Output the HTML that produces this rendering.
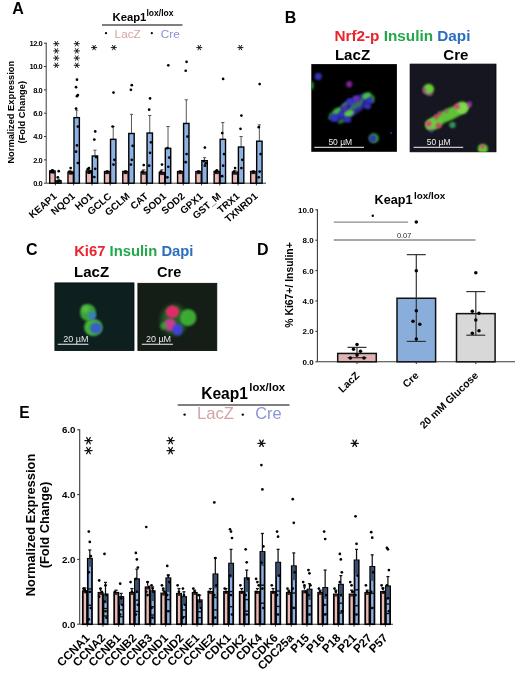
<!DOCTYPE html>
<html><head><meta charset="utf-8"><style>
html,body{margin:0;padding:0;background:#fff;}
svg{display:block;font-family:"Liberation Sans", sans-serif;will-change:transform;}
</style></head><body>
<svg width="520" height="681" viewBox="0 0 520 681">
<defs><filter id="b5" x="-50%" y="-50%" width="200%" height="200%"><feGaussianBlur stdDeviation="0.5"/></filter><filter id="b6" x="-50%" y="-50%" width="200%" height="200%"><feGaussianBlur stdDeviation="0.6"/></filter><filter id="b8" x="-50%" y="-50%" width="200%" height="200%"><feGaussianBlur stdDeviation="0.8"/></filter><filter id="b9" x="-50%" y="-50%" width="200%" height="200%"><feGaussianBlur stdDeviation="0.9"/></filter><filter id="b10" x="-50%" y="-50%" width="200%" height="200%"><feGaussianBlur stdDeviation="1.0"/></filter><filter id="b11" x="-50%" y="-50%" width="200%" height="200%"><feGaussianBlur stdDeviation="1.1"/></filter><filter id="b12" x="-50%" y="-50%" width="200%" height="200%"><feGaussianBlur stdDeviation="1.2"/></filter><filter id="b13" x="-50%" y="-50%" width="200%" height="200%"><feGaussianBlur stdDeviation="1.3"/></filter><filter id="b15" x="-50%" y="-50%" width="200%" height="200%"><feGaussianBlur stdDeviation="1.5"/></filter><filter id="b25" x="-50%" y="-50%" width="200%" height="200%"><feGaussianBlur stdDeviation="2.5"/></filter></defs>
<rect width="520" height="681" fill="#fff"/>
<line x1="46.2" y1="42.696" x2="46.2" y2="183.2" stroke="#3a3a3a" stroke-width="1"/>
<line x1="46.2" y1="183.2" x2="266" y2="183.2" stroke="#3a3a3a" stroke-width="1"/>
<line x1="44.0" y1="183.20" x2="46.2" y2="183.20" stroke="#3a3a3a" stroke-width="1"/>
<text x="42.3" y="186.0" font-size="7.5" font-weight="bold" fill="#000" text-anchor="end" letter-spacing="-0.45">0.0</text>
<line x1="44.0" y1="159.87" x2="46.2" y2="159.87" stroke="#3a3a3a" stroke-width="1"/>
<text x="42.3" y="162.666" font-size="7.5" font-weight="bold" fill="#000" text-anchor="end" letter-spacing="-0.45">2.0</text>
<line x1="44.0" y1="136.53" x2="46.2" y2="136.53" stroke="#3a3a3a" stroke-width="1"/>
<text x="42.3" y="139.332" font-size="7.5" font-weight="bold" fill="#000" text-anchor="end" letter-spacing="-0.45">4.0</text>
<line x1="44.0" y1="113.20" x2="46.2" y2="113.20" stroke="#3a3a3a" stroke-width="1"/>
<text x="42.3" y="115.99799999999999" font-size="7.5" font-weight="bold" fill="#000" text-anchor="end" letter-spacing="-0.45">6.0</text>
<line x1="44.0" y1="89.86" x2="46.2" y2="89.86" stroke="#3a3a3a" stroke-width="1"/>
<text x="42.3" y="92.66399999999999" font-size="7.5" font-weight="bold" fill="#000" text-anchor="end" letter-spacing="-0.45">8.0</text>
<line x1="44.0" y1="66.53" x2="46.2" y2="66.53" stroke="#3a3a3a" stroke-width="1"/>
<text x="42.3" y="69.32999999999998" font-size="7.5" font-weight="bold" fill="#000" text-anchor="end" letter-spacing="-0.45">10.0</text>
<line x1="44.0" y1="43.20" x2="46.2" y2="43.20" stroke="#3a3a3a" stroke-width="1"/>
<text x="42.3" y="45.995999999999995" font-size="7.5" font-weight="bold" fill="#000" text-anchor="end" letter-spacing="-0.45">12.0</text>
<line x1="55.40" y1="183.2" x2="55.40" y2="185.39999999999998" stroke="#3a3a3a" stroke-width="1"/>
<line x1="52.40" y1="170.95" x2="52.40" y2="170.13" stroke="#444" stroke-width="0.9"/>
<line x1="50.80" y1="170.13" x2="54.00" y2="170.13" stroke="#444" stroke-width="0.9"/>
<line x1="58.40" y1="180.87" x2="58.40" y2="179.12" stroke="#444" stroke-width="0.9"/>
<line x1="56.80" y1="179.12" x2="60.00" y2="179.12" stroke="#444" stroke-width="0.9"/>
<rect x="49.70" y="170.95" width="5.4" height="12.25" fill="#e9b9b7" stroke="#000" stroke-width="1.4"/>
<rect x="55.70" y="180.87" width="5.4" height="2.33" fill="#8db2e3" stroke="#000" stroke-width="1.4"/>
<rect x="50.30" y="170.95" width="4.20" height="2.6" fill="#2a1a1a"/>
<circle cx="52.40" cy="170.37" r="1.35" fill="#000"/>
<circle cx="51.20" cy="171.53" r="1.35" fill="#000"/>
<circle cx="53.60" cy="172.12" r="1.35" fill="#000"/>
<circle cx="52.40" cy="170.95" r="1.35" fill="#000"/>
<circle cx="58.70" cy="171.18" r="1.35" fill="#000"/>
<circle cx="57.80" cy="177.37" r="1.35" fill="#000"/>
<circle cx="59.60" cy="180.87" r="1.35" fill="#000"/>
<circle cx="58.70" cy="181.45" r="1.35" fill="#000"/>
<circle cx="57.80" cy="182.03" r="1.35" fill="#000"/>
<text transform="translate(57.40,197.2) rotate(-41)" font-size="9.9" font-weight="bold" text-anchor="end">KEAP1</text>
<line x1="73.67" y1="183.2" x2="73.67" y2="185.39999999999998" stroke="#3a3a3a" stroke-width="1"/>
<line x1="70.67" y1="172.12" x2="70.67" y2="170.95" stroke="#444" stroke-width="0.9"/>
<line x1="69.07" y1="170.95" x2="72.27" y2="170.95" stroke="#444" stroke-width="0.9"/>
<line x1="76.67" y1="117.63" x2="76.67" y2="110.16" stroke="#444" stroke-width="0.9"/>
<line x1="75.07" y1="110.16" x2="78.27" y2="110.16" stroke="#444" stroke-width="0.9"/>
<rect x="67.97" y="172.12" width="5.4" height="11.08" fill="#e9b9b7" stroke="#000" stroke-width="1.4"/>
<rect x="73.97" y="117.63" width="5.4" height="65.57" fill="#8db2e3" stroke="#000" stroke-width="1.4"/>
<rect x="68.57" y="172.12" width="4.20" height="2.6" fill="#2a1a1a"/>
<circle cx="70.67" cy="168.03" r="1.35" fill="#000"/>
<circle cx="69.47" cy="171.53" r="1.35" fill="#000"/>
<circle cx="71.87" cy="172.70" r="1.35" fill="#000"/>
<circle cx="76.97" cy="79.71" r="1.35" fill="#000"/>
<circle cx="76.07" cy="87.18" r="1.35" fill="#000"/>
<circle cx="77.87" cy="95.00" r="1.35" fill="#000"/>
<circle cx="76.97" cy="96.16" r="1.35" fill="#000"/>
<circle cx="76.07" cy="108.53" r="1.35" fill="#000"/>
<circle cx="77.87" cy="126.62" r="1.35" fill="#000"/>
<circle cx="76.97" cy="145.40" r="1.35" fill="#000"/>
<circle cx="76.07" cy="151.70" r="1.35" fill="#000"/>
<circle cx="77.87" cy="163.02" r="1.35" fill="#000"/>
<text transform="translate(75.67,197.2) rotate(-41)" font-size="9.9" font-weight="bold" text-anchor="end">NQO1</text>
<line x1="91.94" y1="183.2" x2="91.94" y2="185.39999999999998" stroke="#3a3a3a" stroke-width="1"/>
<line x1="88.94" y1="170.95" x2="88.94" y2="169.20" stroke="#444" stroke-width="0.9"/>
<line x1="87.34" y1="169.20" x2="90.54" y2="169.20" stroke="#444" stroke-width="0.9"/>
<line x1="94.94" y1="156.02" x2="94.94" y2="150.18" stroke="#444" stroke-width="0.9"/>
<line x1="93.34" y1="150.18" x2="96.54" y2="150.18" stroke="#444" stroke-width="0.9"/>
<rect x="86.24" y="170.95" width="5.4" height="12.25" fill="#e9b9b7" stroke="#000" stroke-width="1.4"/>
<rect x="92.24" y="156.02" width="5.4" height="27.18" fill="#8db2e3" stroke="#000" stroke-width="1.4"/>
<rect x="86.84" y="170.95" width="4.20" height="2.6" fill="#2a1a1a"/>
<circle cx="88.94" cy="168.03" r="1.35" fill="#000"/>
<circle cx="87.74" cy="169.20" r="1.35" fill="#000"/>
<circle cx="90.14" cy="171.53" r="1.35" fill="#000"/>
<circle cx="88.94" cy="172.70" r="1.35" fill="#000"/>
<circle cx="95.24" cy="131.40" r="1.35" fill="#000"/>
<circle cx="94.34" cy="139.57" r="1.35" fill="#000"/>
<circle cx="96.14" cy="157.07" r="1.35" fill="#000"/>
<circle cx="95.24" cy="168.85" r="1.35" fill="#000"/>
<circle cx="94.34" cy="177.02" r="1.35" fill="#000"/>
<text transform="translate(93.94,197.2) rotate(-41)" font-size="9.9" font-weight="bold" text-anchor="end">HO1</text>
<line x1="110.21" y1="183.2" x2="110.21" y2="185.39999999999998" stroke="#3a3a3a" stroke-width="1"/>
<line x1="107.21" y1="171.53" x2="107.21" y2="170.95" stroke="#444" stroke-width="0.9"/>
<line x1="105.61" y1="170.95" x2="108.81" y2="170.95" stroke="#444" stroke-width="0.9"/>
<line x1="113.21" y1="139.33" x2="113.21" y2="126.50" stroke="#444" stroke-width="0.9"/>
<line x1="111.61" y1="126.50" x2="114.81" y2="126.50" stroke="#444" stroke-width="0.9"/>
<rect x="104.51" y="171.53" width="5.4" height="11.67" fill="#e9b9b7" stroke="#000" stroke-width="1.4"/>
<rect x="110.51" y="139.33" width="5.4" height="43.87" fill="#8db2e3" stroke="#000" stroke-width="1.4"/>
<rect x="105.11" y="171.53" width="4.20" height="2.6" fill="#2a1a1a"/>
<circle cx="107.21" cy="171.53" r="1.35" fill="#000"/>
<circle cx="113.51" cy="92.55" r="1.35" fill="#000"/>
<circle cx="112.61" cy="126.50" r="1.35" fill="#000"/>
<circle cx="114.41" cy="159.87" r="1.35" fill="#000"/>
<circle cx="113.51" cy="164.53" r="1.35" fill="#000"/>
<text transform="translate(112.21,197.2) rotate(-41)" font-size="9.9" font-weight="bold" text-anchor="end">GCLC</text>
<line x1="128.48" y1="183.2" x2="128.48" y2="185.39999999999998" stroke="#3a3a3a" stroke-width="1"/>
<line x1="125.48" y1="171.53" x2="125.48" y2="170.95" stroke="#444" stroke-width="0.9"/>
<line x1="123.88" y1="170.95" x2="127.08" y2="170.95" stroke="#444" stroke-width="0.9"/>
<line x1="131.48" y1="133.50" x2="131.48" y2="114.36" stroke="#444" stroke-width="0.9"/>
<line x1="129.88" y1="114.36" x2="133.08" y2="114.36" stroke="#444" stroke-width="0.9"/>
<rect x="122.78" y="171.53" width="5.4" height="11.67" fill="#e9b9b7" stroke="#000" stroke-width="1.4"/>
<rect x="128.78" y="133.50" width="5.4" height="49.70" fill="#8db2e3" stroke="#000" stroke-width="1.4"/>
<rect x="123.38" y="171.53" width="4.20" height="2.6" fill="#2a1a1a"/>
<circle cx="125.48" cy="171.53" r="1.35" fill="#000"/>
<circle cx="131.78" cy="85.20" r="1.35" fill="#000"/>
<circle cx="130.88" cy="89.86" r="1.35" fill="#000"/>
<circle cx="132.68" cy="145.87" r="1.35" fill="#000"/>
<circle cx="131.78" cy="159.87" r="1.35" fill="#000"/>
<circle cx="130.88" cy="164.53" r="1.35" fill="#000"/>
<text transform="translate(130.48,197.2) rotate(-41)" font-size="9.9" font-weight="bold" text-anchor="end">GCLM</text>
<line x1="146.75" y1="183.2" x2="146.75" y2="185.39999999999998" stroke="#3a3a3a" stroke-width="1"/>
<line x1="143.75" y1="172.12" x2="143.75" y2="169.78" stroke="#444" stroke-width="0.9"/>
<line x1="142.15" y1="169.78" x2="145.35" y2="169.78" stroke="#444" stroke-width="0.9"/>
<line x1="149.75" y1="133.03" x2="149.75" y2="115.53" stroke="#444" stroke-width="0.9"/>
<line x1="148.15" y1="115.53" x2="151.35" y2="115.53" stroke="#444" stroke-width="0.9"/>
<rect x="141.05" y="172.12" width="5.4" height="11.08" fill="#e9b9b7" stroke="#000" stroke-width="1.4"/>
<rect x="147.05" y="133.03" width="5.4" height="50.17" fill="#8db2e3" stroke="#000" stroke-width="1.4"/>
<rect x="141.65" y="172.12" width="4.20" height="2.6" fill="#2a1a1a"/>
<circle cx="143.75" cy="165.12" r="1.35" fill="#000"/>
<circle cx="142.55" cy="171.53" r="1.35" fill="#000"/>
<circle cx="150.05" cy="98.38" r="1.35" fill="#000"/>
<circle cx="149.15" cy="109.70" r="1.35" fill="#000"/>
<circle cx="150.95" cy="142.37" r="1.35" fill="#000"/>
<circle cx="150.05" cy="152.87" r="1.35" fill="#000"/>
<circle cx="149.15" cy="165.70" r="1.35" fill="#000"/>
<text transform="translate(148.75,197.2) rotate(-41)" font-size="9.9" font-weight="bold" text-anchor="end">CAT</text>
<line x1="165.02" y1="183.2" x2="165.02" y2="185.39999999999998" stroke="#3a3a3a" stroke-width="1"/>
<line x1="162.02" y1="172.47" x2="162.02" y2="169.78" stroke="#444" stroke-width="0.9"/>
<line x1="160.42" y1="169.78" x2="163.62" y2="169.78" stroke="#444" stroke-width="0.9"/>
<line x1="168.02" y1="148.32" x2="168.02" y2="126.50" stroke="#444" stroke-width="0.9"/>
<line x1="166.42" y1="126.50" x2="169.62" y2="126.50" stroke="#444" stroke-width="0.9"/>
<rect x="159.32" y="172.47" width="5.4" height="10.73" fill="#e9b9b7" stroke="#000" stroke-width="1.4"/>
<rect x="165.32" y="148.32" width="5.4" height="34.88" fill="#8db2e3" stroke="#000" stroke-width="1.4"/>
<rect x="159.92" y="172.47" width="4.20" height="2.6" fill="#2a1a1a"/>
<circle cx="162.02" cy="164.53" r="1.35" fill="#000"/>
<circle cx="160.82" cy="171.53" r="1.35" fill="#000"/>
<circle cx="168.32" cy="65.36" r="1.35" fill="#000"/>
<circle cx="167.42" cy="148.20" r="1.35" fill="#000"/>
<circle cx="169.22" cy="157.53" r="1.35" fill="#000"/>
<circle cx="168.32" cy="166.87" r="1.35" fill="#000"/>
<circle cx="167.42" cy="177.37" r="1.35" fill="#000"/>
<text transform="translate(167.02,197.2) rotate(-41)" font-size="9.9" font-weight="bold" text-anchor="end">SOD1</text>
<line x1="183.29" y1="183.2" x2="183.29" y2="185.39999999999998" stroke="#3a3a3a" stroke-width="1"/>
<line x1="180.29" y1="171.53" x2="180.29" y2="170.95" stroke="#444" stroke-width="0.9"/>
<line x1="178.69" y1="170.95" x2="181.89" y2="170.95" stroke="#444" stroke-width="0.9"/>
<line x1="186.29" y1="123.46" x2="186.29" y2="99.78" stroke="#444" stroke-width="0.9"/>
<line x1="184.69" y1="99.78" x2="187.89" y2="99.78" stroke="#444" stroke-width="0.9"/>
<rect x="177.59" y="171.53" width="5.4" height="11.67" fill="#e9b9b7" stroke="#000" stroke-width="1.4"/>
<rect x="183.59" y="123.46" width="5.4" height="59.74" fill="#8db2e3" stroke="#000" stroke-width="1.4"/>
<rect x="178.19" y="171.53" width="4.20" height="2.6" fill="#2a1a1a"/>
<circle cx="180.29" cy="171.53" r="1.35" fill="#000"/>
<circle cx="186.59" cy="61.86" r="1.35" fill="#000"/>
<circle cx="185.69" cy="70.73" r="1.35" fill="#000"/>
<circle cx="187.49" cy="136.53" r="1.35" fill="#000"/>
<circle cx="186.59" cy="154.03" r="1.35" fill="#000"/>
<circle cx="185.69" cy="162.20" r="1.35" fill="#000"/>
<text transform="translate(185.29,197.2) rotate(-41)" font-size="9.9" font-weight="bold" text-anchor="end">SOD2</text>
<line x1="201.56" y1="183.2" x2="201.56" y2="185.39999999999998" stroke="#3a3a3a" stroke-width="1"/>
<line x1="198.56" y1="171.53" x2="198.56" y2="170.95" stroke="#444" stroke-width="0.9"/>
<line x1="196.96" y1="170.95" x2="200.16" y2="170.95" stroke="#444" stroke-width="0.9"/>
<line x1="204.56" y1="160.68" x2="204.56" y2="157.65" stroke="#444" stroke-width="0.9"/>
<line x1="202.96" y1="157.65" x2="206.16" y2="157.65" stroke="#444" stroke-width="0.9"/>
<rect x="195.86" y="171.53" width="5.4" height="11.67" fill="#e9b9b7" stroke="#000" stroke-width="1.4"/>
<rect x="201.86" y="160.68" width="5.4" height="22.52" fill="#8db2e3" stroke="#000" stroke-width="1.4"/>
<rect x="196.46" y="171.53" width="4.20" height="2.6" fill="#2a1a1a"/>
<circle cx="198.56" cy="171.53" r="1.35" fill="#000"/>
<circle cx="204.86" cy="147.62" r="1.35" fill="#000"/>
<circle cx="203.96" cy="161.03" r="1.35" fill="#000"/>
<circle cx="205.76" cy="163.37" r="1.35" fill="#000"/>
<circle cx="204.86" cy="165.70" r="1.35" fill="#000"/>
<text transform="translate(203.56,197.2) rotate(-41)" font-size="9.9" font-weight="bold" text-anchor="end">GPX1</text>
<line x1="219.83" y1="183.2" x2="219.83" y2="185.39999999999998" stroke="#3a3a3a" stroke-width="1"/>
<line x1="216.83" y1="171.53" x2="216.83" y2="170.37" stroke="#444" stroke-width="0.9"/>
<line x1="215.23" y1="170.37" x2="218.43" y2="170.37" stroke="#444" stroke-width="0.9"/>
<line x1="222.83" y1="139.33" x2="222.83" y2="122.53" stroke="#444" stroke-width="0.9"/>
<line x1="221.23" y1="122.53" x2="224.43" y2="122.53" stroke="#444" stroke-width="0.9"/>
<rect x="214.13" y="171.53" width="5.4" height="11.67" fill="#e9b9b7" stroke="#000" stroke-width="1.4"/>
<rect x="220.13" y="139.33" width="5.4" height="43.87" fill="#8db2e3" stroke="#000" stroke-width="1.4"/>
<rect x="214.73" y="171.53" width="4.20" height="2.6" fill="#2a1a1a"/>
<circle cx="216.83" cy="170.37" r="1.35" fill="#000"/>
<circle cx="215.63" cy="171.53" r="1.35" fill="#000"/>
<circle cx="223.13" cy="78.90" r="1.35" fill="#000"/>
<circle cx="222.23" cy="133.03" r="1.35" fill="#000"/>
<circle cx="224.03" cy="154.03" r="1.35" fill="#000"/>
<circle cx="223.13" cy="165.70" r="1.35" fill="#000"/>
<circle cx="222.23" cy="176.20" r="1.35" fill="#000"/>
<text transform="translate(221.83,197.2) rotate(-41)" font-size="9.9" font-weight="bold" text-anchor="end">GST_M</text>
<line x1="238.10" y1="183.2" x2="238.10" y2="185.39999999999998" stroke="#3a3a3a" stroke-width="1"/>
<line x1="235.10" y1="172.12" x2="235.10" y2="170.37" stroke="#444" stroke-width="0.9"/>
<line x1="233.50" y1="170.37" x2="236.70" y2="170.37" stroke="#444" stroke-width="0.9"/>
<line x1="241.10" y1="147.03" x2="241.10" y2="136.53" stroke="#444" stroke-width="0.9"/>
<line x1="239.50" y1="136.53" x2="242.70" y2="136.53" stroke="#444" stroke-width="0.9"/>
<rect x="232.40" y="172.12" width="5.4" height="11.08" fill="#e9b9b7" stroke="#000" stroke-width="1.4"/>
<rect x="238.40" y="147.03" width="5.4" height="36.17" fill="#8db2e3" stroke="#000" stroke-width="1.4"/>
<rect x="233.00" y="172.12" width="4.20" height="2.6" fill="#2a1a1a"/>
<circle cx="235.10" cy="168.03" r="1.35" fill="#000"/>
<circle cx="233.90" cy="171.53" r="1.35" fill="#000"/>
<circle cx="241.40" cy="115.53" r="1.35" fill="#000"/>
<circle cx="240.50" cy="128.83" r="1.35" fill="#000"/>
<circle cx="242.30" cy="159.87" r="1.35" fill="#000"/>
<circle cx="241.40" cy="168.03" r="1.35" fill="#000"/>
<text transform="translate(240.10,197.2) rotate(-41)" font-size="9.9" font-weight="bold" text-anchor="end">TRX1</text>
<line x1="256.37" y1="183.2" x2="256.37" y2="185.39999999999998" stroke="#3a3a3a" stroke-width="1"/>
<line x1="253.37" y1="171.53" x2="253.37" y2="170.95" stroke="#444" stroke-width="0.9"/>
<line x1="251.77" y1="170.95" x2="254.97" y2="170.95" stroke="#444" stroke-width="0.9"/>
<line x1="259.37" y1="141.20" x2="259.37" y2="124.86" stroke="#444" stroke-width="0.9"/>
<line x1="257.77" y1="124.86" x2="260.97" y2="124.86" stroke="#444" stroke-width="0.9"/>
<rect x="250.67" y="171.53" width="5.4" height="11.67" fill="#e9b9b7" stroke="#000" stroke-width="1.4"/>
<rect x="256.67" y="141.20" width="5.4" height="42.00" fill="#8db2e3" stroke="#000" stroke-width="1.4"/>
<rect x="251.27" y="171.53" width="4.20" height="2.6" fill="#2a1a1a"/>
<circle cx="253.37" cy="171.53" r="1.35" fill="#000"/>
<circle cx="259.67" cy="84.03" r="1.35" fill="#000"/>
<circle cx="258.77" cy="127.20" r="1.35" fill="#000"/>
<circle cx="260.57" cy="154.03" r="1.35" fill="#000"/>
<circle cx="259.67" cy="171.53" r="1.35" fill="#000"/>
<circle cx="258.77" cy="177.37" r="1.35" fill="#000"/>
<text transform="translate(258.37,197.2) rotate(-41)" font-size="9.9" font-weight="bold" text-anchor="end">TXNRD1</text>
<path d="M53.70,43.70L58.90,43.70M55.00,41.45L57.60,45.95M57.60,41.45L55.00,45.95" stroke="#111" stroke-width="0.95" stroke-linecap="round" fill="none"/>
<path d="M53.70,50.90L58.90,50.90M55.00,48.65L57.60,53.15M57.60,48.65L55.00,53.15" stroke="#111" stroke-width="0.95" stroke-linecap="round" fill="none"/>
<path d="M53.70,58.10L58.90,58.10M55.00,55.85L57.60,60.35M57.60,55.85L55.00,60.35" stroke="#111" stroke-width="0.95" stroke-linecap="round" fill="none"/>
<path d="M53.70,65.30L58.90,65.30M55.00,63.05L57.60,67.55M57.60,63.05L55.00,67.55" stroke="#111" stroke-width="0.95" stroke-linecap="round" fill="none"/>
<path d="M74.20,43.70L79.40,43.70M75.50,41.45L78.10,45.95M78.10,41.45L75.50,45.95" stroke="#111" stroke-width="0.95" stroke-linecap="round" fill="none"/>
<path d="M74.20,50.90L79.40,50.90M75.50,48.65L78.10,53.15M78.10,48.65L75.50,53.15" stroke="#111" stroke-width="0.95" stroke-linecap="round" fill="none"/>
<path d="M74.20,58.10L79.40,58.10M75.50,55.85L78.10,60.35M78.10,55.85L75.50,60.35" stroke="#111" stroke-width="0.95" stroke-linecap="round" fill="none"/>
<path d="M74.20,65.30L79.40,65.30M75.50,63.05L78.10,67.55M78.10,63.05L75.50,67.55" stroke="#111" stroke-width="0.95" stroke-linecap="round" fill="none"/>
<path d="M91.50,47.60L96.70,47.60M92.80,45.35L95.40,49.85M95.40,45.35L92.80,49.85" stroke="#111" stroke-width="0.95" stroke-linecap="round" fill="none"/>
<path d="M111.20,47.60L116.40,47.60M112.50,45.35L115.10,49.85M115.10,45.35L112.50,49.85" stroke="#111" stroke-width="0.95" stroke-linecap="round" fill="none"/>
<path d="M196.70,47.60L201.90,47.60M198.00,45.35L200.60,49.85M200.60,45.35L198.00,49.85" stroke="#111" stroke-width="0.95" stroke-linecap="round" fill="none"/>
<path d="M237.80,47.60L243.00,47.60M239.10,45.35L241.70,49.85M241.70,45.35L239.10,49.85" stroke="#111" stroke-width="0.95" stroke-linecap="round" fill="none"/>
<text transform="translate(14.2,112.2) rotate(-90)" font-size="9.3" font-weight="bold" text-anchor="middle">Normalized Expression</text>
<text transform="translate(24.9,112.2) rotate(-90)" font-size="9.3" font-weight="bold" text-anchor="middle">(Fold Change)</text>
<text x="112.5" y="20.8" font-size="11.3" font-weight="bold" fill="#000" text-anchor="start" >Keap1</text>
<text x="146.5" y="16" font-size="8.5" font-weight="bold" fill="#000" text-anchor="start" >lox/lox</text>
<line x1="102" y1="25" x2="182.5" y2="25" stroke="#555" stroke-width="1.4"/>
<circle cx="106.00" cy="33.20" r="1.1" fill="#000"/>
<text x="114.6" y="37.5" font-size="11.8" font-weight="normal" fill="#d6a2a2" text-anchor="start" >LacZ</text>
<circle cx="151.80" cy="33.20" r="1.1" fill="#000"/>
<text x="160.8" y="37.5" font-size="11.8" font-weight="normal" fill="#8790d6" text-anchor="start" >Cre</text>
<text x="12.3" y="13.8" font-size="16" font-weight="bold" fill="#000" text-anchor="start" >A</text>
<text x="284.8" y="22.6" font-size="16" font-weight="bold" fill="#000" text-anchor="start" >B</text>
<text x="334.4" y="41" font-size="15.3" font-weight="bold"><tspan fill="#e8242c">Nrf2-p</tspan> <tspan fill="#22a84a">Insulin</tspan> <tspan fill="#2a6fc0">Dapi</tspan></text>
<text x="334.9" y="60.4" font-size="15.1" font-weight="bold" fill="#000" text-anchor="start" >LacZ</text>
<text x="443.3" y="60.4" font-size="15" font-weight="bold" fill="#000" text-anchor="start" >Cre</text>
<rect x="311.3" y="64.1" width="85.6" height="87.7" fill="#000"/>
<clipPath id="cB1"><rect x="311.3" y="64.1" width="85.6" height="87.7"/></clipPath>
<g clip-path="url(#cB1)">
<ellipse cx="318.3" cy="76.4" rx="3.6" ry="3.6" fill="#3838c8" opacity="0.9" transform="rotate(0 318.3 76.4)" filter="url(#b10)"/>
<ellipse cx="311.8" cy="85.4" rx="2" ry="4" fill="#2a9a3a" opacity="0.9" transform="rotate(0 311.8 85.4)" filter="url(#b10)"/>
<ellipse cx="349.2" cy="84.3" rx="3.0" ry="3.3" fill="#8a2aa8" opacity="0.9" transform="rotate(0 349.2 84.3)" filter="url(#b10)"/>
<ellipse cx="351.5" cy="107.5" rx="22.5" ry="8.0" fill="#3026a0" opacity="0.95" transform="rotate(-33 351.5 107.5)" filter="url(#b12)"/>
<ellipse cx="366.8" cy="95.8" rx="5.0" ry="3.4" fill="#48c848" opacity="0.95" transform="rotate(-20 366.8 95.8)" filter="url(#b10)"/>
<ellipse cx="372.5" cy="99" rx="2.0" ry="4.0" fill="#40b840" opacity="0.8" transform="rotate(0 372.5 99)" filter="url(#b9)"/>
<ellipse cx="336.5" cy="111.5" rx="5.5" ry="3.0" fill="#40c040" opacity="0.95" transform="rotate(-35 336.5 111.5)" filter="url(#b10)"/>
<ellipse cx="348.9" cy="113.3" rx="5.2" ry="3.6" fill="#5cd048" opacity="0.95" transform="rotate(-20 348.9 113.3)" filter="url(#b10)"/>
<ellipse cx="341.5" cy="121.5" rx="4.0" ry="1.6" fill="#30a838" opacity="0.85" transform="rotate(-20 341.5 121.5)" filter="url(#b10)"/>
<ellipse cx="330.5" cy="116" rx="1.6" ry="4.0" fill="#30a838" opacity="0.8" transform="rotate(20 330.5 116)" filter="url(#b10)"/>
<ellipse cx="352.5" cy="106.5" rx="1.1" ry="5.5" fill="#38b040" opacity="0.9" transform="rotate(25 352.5 106.5)" filter="url(#b8)"/>
<ellipse cx="356.5" cy="105.0" rx="1.1" ry="5.5" fill="#38b040" opacity="0.9" transform="rotate(25 356.5 105.0)" filter="url(#b8)"/>
<ellipse cx="360.5" cy="103.0" rx="1.1" ry="5.5" fill="#38b040" opacity="0.9" transform="rotate(25 360.5 103.0)" filter="url(#b8)"/>
<ellipse cx="344.5" cy="104.5" rx="4.0" ry="1.3" fill="#38b040" opacity="0.85" transform="rotate(-40 344.5 104.5)" filter="url(#b9)"/>
<ellipse cx="369.8" cy="100.8" rx="3.3" ry="3.4" fill="#3434c8" opacity="0.95" transform="rotate(0 369.8 100.8)" filter="url(#b9)"/>
<ellipse cx="367.7" cy="106.2" rx="3.4" ry="3.0" fill="#3434c4" opacity="0.95" transform="rotate(0 367.7 106.2)" filter="url(#b9)"/>
<ellipse cx="356" cy="98.7" rx="3.5" ry="3.3" fill="#6a30b8" opacity="0.9" transform="rotate(0 356 98.7)" filter="url(#b9)"/>
<ellipse cx="349.7" cy="101.8" rx="3.5" ry="3.5" fill="#3a38c8" opacity="0.95" transform="rotate(0 349.7 101.8)" filter="url(#b9)"/>
<ellipse cx="345" cy="108.5" rx="3.0" ry="2.6" fill="#5030b0" opacity="0.85" transform="rotate(0 345 108.5)" filter="url(#b9)"/>
<ellipse cx="333.8" cy="117.7" rx="4.0" ry="4.0" fill="#3434c8" opacity="0.95" transform="rotate(0 333.8 117.7)" filter="url(#b9)"/>
<ellipse cx="341.0" cy="114.0" rx="2.4" ry="3.0" fill="#3434c8" opacity="0.9" transform="rotate(0 341.0 114.0)" filter="url(#b9)"/>
<ellipse cx="347.6" cy="119.8" rx="3.8" ry="2.8" fill="#3636cc" opacity="0.95" transform="rotate(0 347.6 119.8)" filter="url(#b9)"/>
<ellipse cx="373.8" cy="138.3" rx="5.0" ry="5.0" fill="#30a838" opacity="0.95" transform="rotate(0 373.8 138.3)" filter="url(#b9)"/>
<ellipse cx="372.8" cy="138.5" rx="3.6" ry="3.8" fill="#3232b8" opacity="0.95" transform="rotate(0 372.8 138.5)" filter="url(#b8)"/>
<ellipse cx="391" cy="133" rx="1" ry="1" fill="#3030c0" opacity="0.9" transform="rotate(0 391 133)" filter="url(#b5)"/>
</g>
<line x1="314.3" y1="147.4" x2="364" y2="147.4" stroke="#c8c8c8" stroke-width="1.3"/>
<text x="340.3" y="145.4" font-size="8.5" fill="#eeeeee" text-anchor="middle">50 µM</text>
<rect x="410.1" y="64.1" width="85.9" height="87.7" fill="#15161f" stroke="#000" stroke-width="0.8"/>
<clipPath id="cB2"><rect x="410.1" y="64.1" width="85.9" height="87.7"/></clipPath>
<g clip-path="url(#cB2)">
<ellipse cx="428.6" cy="89.3" rx="5.4" ry="5.6" fill="#70d838" opacity="0.95" transform="rotate(0 428.6 89.3)" filter="url(#b10)"/>
<ellipse cx="424.3" cy="90.5" rx="1.6" ry="3.2" fill="#c030b0" opacity="0.8" transform="rotate(0 424.3 90.5)" filter="url(#b8)"/>
<ellipse cx="430" cy="94.6" rx="3" ry="1.4" fill="#c030c0" opacity="0.7" transform="rotate(0 430 94.6)" filter="url(#b8)"/>
<ellipse cx="449.5" cy="114.2" rx="22" ry="6.0" fill="#64cc38" opacity="0.95" transform="rotate(-25 449.5 114.2)" filter="url(#b11)"/>
<ellipse cx="434.5" cy="123.2" rx="8.5" ry="6.2" fill="#66cc3a" opacity="0.95" transform="rotate(-15 434.5 123.2)" filter="url(#b11)"/>
<ellipse cx="462.1" cy="107.7" rx="6.3" ry="6.3" fill="#80dc48" opacity="0.95" transform="rotate(0 462.1 107.7)" filter="url(#b12)"/>
<ellipse cx="430.5" cy="125" rx="5.5" ry="5.5" fill="#6cd040" opacity="0.95" transform="rotate(0 430.5 125)" filter="url(#b11)"/>
<ellipse cx="428.7" cy="123.8" rx="2.7" ry="2.7" fill="#f03080" opacity="0.95" transform="rotate(0 428.7 123.8)" filter="url(#b10)"/>
<ellipse cx="438.5" cy="125.6" rx="2.8" ry="2.6" fill="#e03070" opacity="0.9" transform="rotate(0 438.5 125.6)" filter="url(#b10)"/>
<ellipse cx="436.2" cy="116.9" rx="2.4" ry="2.4" fill="#d8307a" opacity="0.9" transform="rotate(0 436.2 116.9)" filter="url(#b10)"/>
<ellipse cx="439.6" cy="113.5" rx="2.2" ry="2.2" fill="#d83080" opacity="0.85" transform="rotate(0 439.6 113.5)" filter="url(#b10)"/>
<ellipse cx="446.5" cy="111.2" rx="2.0" ry="2.0" fill="#b84090" opacity="0.7" transform="rotate(0 446.5 111.2)" filter="url(#b10)"/>
<ellipse cx="456.9" cy="106.5" rx="2.8" ry="2.8" fill="#e83080" opacity="0.9" transform="rotate(0 456.9 106.5)" filter="url(#b10)"/>
<ellipse cx="469.6" cy="104.2" rx="2.2" ry="3.0" fill="#b030c0" opacity="0.85" transform="rotate(0 469.6 104.2)" filter="url(#b10)"/>
<ellipse cx="431.5" cy="130.8" rx="2.2" ry="1.5" fill="#8040c0" opacity="0.8" transform="rotate(0 431.5 130.8)" filter="url(#b10)"/>
<ellipse cx="452.5" cy="125.0" rx="3.2" ry="3.0" fill="#38b040" opacity="0.9" transform="rotate(0 452.5 125.0)" filter="url(#b9)"/>
<ellipse cx="452.5" cy="126.0" rx="1.4" ry="1.4" fill="#2a7ab0" opacity="0.8" transform="rotate(0 452.5 126.0)" filter="url(#b6)"/>
<ellipse cx="482.8" cy="148.9" rx="5" ry="5" fill="#66dd33" opacity="0.95" transform="rotate(0 482.8 148.9)" filter="url(#b10)"/>
<ellipse cx="482.5" cy="146.7" rx="2.3" ry="2.0" fill="#e8308a" opacity="0.95" transform="rotate(0 482.5 146.7)" filter="url(#b10)"/>
</g>
<line x1="413.6" y1="147.4" x2="463.2" y2="147.4" stroke="#c8c8c8" stroke-width="1.3"/>
<text x="438.6" y="145.4" font-size="8.5" fill="#eeeeee" text-anchor="middle">50 µM</text>
<text x="26" y="255" font-size="16" font-weight="bold" fill="#000" text-anchor="start" >C</text>
<text x="74.2" y="256.4" font-size="14.8" font-weight="bold"><tspan fill="#e8242c">Ki67</tspan> <tspan fill="#22a84a">Insulin</tspan> <tspan fill="#2a6fc0">Dapi</tspan></text>
<text x="74.1" y="276.9" font-size="15" font-weight="bold" fill="#000" text-anchor="start" >LacZ</text>
<text x="157.1" y="276.9" font-size="14.5" font-weight="bold" fill="#000" text-anchor="start" >Cre</text>
<rect x="54.9" y="282.9" width="79.1" height="67.7" fill="#0d1f1f" stroke="#020a08" stroke-width="0.8"/>
<clipPath id="cC1"><rect x="54.9" y="282.9" width="79.1" height="67.7"/></clipPath>
<g clip-path="url(#cC1)">
<ellipse cx="88" cy="312.5" rx="8.0" ry="8.6" fill="#3caa3a" opacity="0.95" transform="rotate(0 88 312.5)" filter="url(#b13)"/>
<ellipse cx="93.3" cy="327.3" rx="9.2" ry="8.6" fill="#4aba3c" opacity="0.95" transform="rotate(0 93.3 327.3)" filter="url(#b13)"/>
<ellipse cx="85.5" cy="309" rx="4" ry="4" fill="#60c850" opacity="0.7" transform="rotate(0 85.5 309)" filter="url(#b15)"/>
<ellipse cx="92.2" cy="315.7" rx="3.6" ry="4.0" fill="#3a7ad2" opacity="0.95" transform="rotate(0 92.2 315.7)" filter="url(#b10)"/>
<ellipse cx="96" cy="328.2" rx="6.0" ry="5.6" fill="#3a5ccc" opacity="0.95" transform="rotate(0 96 328.2)" filter="url(#b10)"/>
</g>
<line x1="57.8" y1="344.3" x2="88.4" y2="344.3" stroke="#d0d0d0" stroke-width="1.2"/>
<text x="75.8" y="342.4" font-size="9" fill="#e8e8e8" text-anchor="middle">20 µM</text>
<rect x="137.9" y="283.3" width="78.9" height="67.3" fill="#141d16" stroke="#050a06" stroke-width="0.8"/>
<clipPath id="cC2"><rect x="137.9" y="283.3" width="78.9" height="67.3"/></clipPath>
<g clip-path="url(#cC2)">
<ellipse cx="174" cy="320" rx="13" ry="15" fill="#2a802a" opacity="0.7" transform="rotate(0 174 320)" filter="url(#b25)"/>
<ellipse cx="188.2" cy="317.5" rx="8.2" ry="8.6" fill="#3cb034" opacity="0.95" transform="rotate(0 188.2 317.5)" filter="url(#b12)"/>
<ellipse cx="172.5" cy="311.8" rx="6.8" ry="6.2" fill="#e82a6a" opacity="0.95" transform="rotate(0 172.5 311.8)" filter="url(#b10)"/>
<ellipse cx="170" cy="324.8" rx="6.2" ry="6.2" fill="#d23a9c" opacity="0.92" transform="rotate(0 170 324.8)" filter="url(#b10)"/>
<ellipse cx="177.6" cy="329.8" rx="5.2" ry="6.0" fill="#4242da" opacity="0.95" transform="rotate(0 177.6 329.8)" filter="url(#b10)"/>
<ellipse cx="163.5" cy="326" rx="3.4" ry="3.8" fill="#3aa83a" opacity="0.75" transform="rotate(0 163.5 326)" filter="url(#b13)"/>
</g>
<line x1="141.8" y1="344.3" x2="172.9" y2="344.3" stroke="#d0d0d0" stroke-width="1.2"/>
<text x="158.5" y="342.4" font-size="9" fill="#e8e8e8" text-anchor="middle">20 µM</text>
<text x="257.0" y="254.8" font-size="16" font-weight="bold" fill="#000" text-anchor="start" >D</text>
<text x="374.6" y="204.3" font-size="12.6" font-weight="bold" fill="#000" text-anchor="start" >Keap1</text>
<text x="414.0" y="198.7" font-size="9.9" font-weight="bold" fill="#000" text-anchor="start" >lox/lox</text>
<line x1="317.4" y1="209.3" x2="317.4" y2="361.8" stroke="#3a3a3a" stroke-width="1.1"/>
<line x1="317.4" y1="361.8" x2="515" y2="361.8" stroke="#3a3a3a" stroke-width="1.1"/>
<line x1="315.4" y1="361.80" x2="317.4" y2="361.80" stroke="#3a3a3a" stroke-width="1.1"/>
<text x="313.6" y="364.7" font-size="8" font-weight="bold" fill="#000" text-anchor="end" >0.0</text>
<line x1="315.4" y1="331.40" x2="317.4" y2="331.40" stroke="#3a3a3a" stroke-width="1.1"/>
<text x="313.6" y="334.3" font-size="8" font-weight="bold" fill="#000" text-anchor="end" >2.0</text>
<line x1="315.4" y1="301.00" x2="317.4" y2="301.00" stroke="#3a3a3a" stroke-width="1.1"/>
<text x="313.6" y="303.9" font-size="8" font-weight="bold" fill="#000" text-anchor="end" >4.0</text>
<line x1="315.4" y1="270.60" x2="317.4" y2="270.60" stroke="#3a3a3a" stroke-width="1.1"/>
<text x="313.6" y="273.5" font-size="8" font-weight="bold" fill="#000" text-anchor="end" >6.0</text>
<line x1="315.4" y1="240.20" x2="317.4" y2="240.20" stroke="#3a3a3a" stroke-width="1.1"/>
<text x="313.6" y="243.10000000000002" font-size="8" font-weight="bold" fill="#000" text-anchor="end" >8.0</text>
<line x1="315.4" y1="209.80" x2="317.4" y2="209.80" stroke="#3a3a3a" stroke-width="1.1"/>
<text x="313.6" y="212.70000000000002" font-size="8" font-weight="bold" fill="#000" text-anchor="end" >10.0</text>
<text transform="translate(292.6,285) rotate(-90)" font-size="10.4" font-weight="bold" text-anchor="middle">% Ki67+/ Insulin+</text>
<rect x="337.70" y="353.44" width="38.6" height="8.36" fill="#dfb3b3" stroke="#111" stroke-width="1.5"/>
<line x1="357" y1="357.70" x2="357" y2="347.36" stroke="#333" stroke-width="1.2"/>
<line x1="347.5" y1="357.70" x2="366.5" y2="357.70" stroke="#333" stroke-width="1.2"/>
<line x1="347.5" y1="347.36" x2="366.5" y2="347.36" stroke="#333" stroke-width="1.2"/>
<circle cx="357.00" cy="344.50" r="1.75" fill="#000"/>
<circle cx="353.50" cy="349.20" r="1.75" fill="#000"/>
<circle cx="360.50" cy="351.20" r="1.75" fill="#000"/>
<circle cx="350.30" cy="357.90" r="1.75" fill="#000"/>
<circle cx="357.00" cy="354.90" r="1.75" fill="#000"/>
<circle cx="364.00" cy="357.90" r="1.75" fill="#000"/>
<line x1="357" y1="361.8" x2="357" y2="364.1" stroke="#3a3a3a" stroke-width="1.1"/>
<rect x="397.00" y="298.26" width="38.6" height="63.54" fill="#8aaedb" stroke="#111" stroke-width="1.5"/>
<line x1="416.3" y1="341.43" x2="416.3" y2="254.64" stroke="#333" stroke-width="1.2"/>
<line x1="406.8" y1="341.43" x2="425.8" y2="341.43" stroke="#333" stroke-width="1.2"/>
<line x1="406.8" y1="254.64" x2="425.8" y2="254.64" stroke="#333" stroke-width="1.2"/>
<circle cx="416.30" cy="222.00" r="1.75" fill="#000"/>
<circle cx="416.30" cy="270.80" r="1.75" fill="#000"/>
<circle cx="416.30" cy="310.80" r="1.75" fill="#000"/>
<circle cx="413.00" cy="321.30" r="1.75" fill="#000"/>
<circle cx="419.80" cy="324.30" r="1.75" fill="#000"/>
<circle cx="416.30" cy="339.00" r="1.75" fill="#000"/>
<line x1="416.3" y1="361.8" x2="416.3" y2="364.1" stroke="#3a3a3a" stroke-width="1.1"/>
<rect x="456.50" y="313.62" width="38.6" height="48.18" fill="#d8d8d8" stroke="#111" stroke-width="1.5"/>
<line x1="475.8" y1="335.20" x2="475.8" y2="291.58" stroke="#333" stroke-width="1.2"/>
<line x1="466.3" y1="335.20" x2="485.3" y2="335.20" stroke="#333" stroke-width="1.2"/>
<line x1="466.3" y1="291.58" x2="485.3" y2="291.58" stroke="#333" stroke-width="1.2"/>
<circle cx="475.80" cy="272.80" r="1.75" fill="#000"/>
<circle cx="472.30" cy="311.30" r="1.75" fill="#000"/>
<circle cx="479.00" cy="313.30" r="1.75" fill="#000"/>
<circle cx="475.80" cy="320.00" r="1.75" fill="#000"/>
<circle cx="472.30" cy="333.30" r="1.75" fill="#000"/>
<circle cx="479.00" cy="330.80" r="1.75" fill="#000"/>
<line x1="475.8" y1="361.8" x2="475.8" y2="364.1" stroke="#3a3a3a" stroke-width="1.1"/>
<line x1="333.8" y1="222.1" x2="408" y2="222.1" stroke="#8a8a8a" stroke-width="1.4"/>
<circle cx="372.80" cy="215.80" r="1.2" fill="#000"/>
<line x1="333.8" y1="240" x2="475.5" y2="240" stroke="#8a8a8a" stroke-width="1.4"/>
<text x="404.1" y="237.7" font-size="7.4" fill="#2a2a2a" text-anchor="middle">0.07</text>
<text transform="translate(360.00,376.3) rotate(-44)" font-size="10.4" font-weight="bold" text-anchor="end">LacZ</text>
<text transform="translate(419.30,376.3) rotate(-44)" font-size="10.4" font-weight="bold" text-anchor="end">Cre</text>
<text transform="translate(478.80,376.3) rotate(-44)" font-size="10.4" font-weight="bold" text-anchor="end">20 mM Glucose</text>
<text x="19.3" y="418.1" font-size="15.6" font-weight="bold" fill="#000" text-anchor="start" >E</text>
<text x="201.2" y="399" font-size="15.6" font-weight="bold" fill="#000" text-anchor="start" >Keap1</text>
<text x="249.3" y="391.4" font-size="11.3" font-weight="bold" fill="#000" text-anchor="start" >lox/lox</text>
<line x1="177.7" y1="405" x2="289.5" y2="405" stroke="#555" stroke-width="1.5"/>
<circle cx="184.60" cy="414.60" r="1.2" fill="#000"/>
<text x="197.0" y="419.2" font-size="16.6" font-weight="normal" fill="#d4a4a4" text-anchor="start" >LacZ</text>
<circle cx="242.80" cy="414.60" r="1.2" fill="#000"/>
<text x="255.2" y="419.2" font-size="16.4" font-weight="normal" fill="#8c93d6" text-anchor="start" >Cre</text>
<line x1="79.7" y1="429.30000000000007" x2="79.7" y2="624.2" stroke="#3a3a3a" stroke-width="1.1"/>
<line x1="79.7" y1="624.2" x2="393" y2="624.2" stroke="#3a3a3a" stroke-width="1.1"/>
<line x1="77.2" y1="624.20" x2="79.7" y2="624.20" stroke="#3a3a3a" stroke-width="1.1"/>
<text x="75.4" y="627.6" font-size="9.7" font-weight="bold" fill="#000" text-anchor="end" >0.0</text>
<line x1="77.2" y1="559.40" x2="79.7" y2="559.40" stroke="#3a3a3a" stroke-width="1.1"/>
<text x="75.4" y="562.8000000000001" font-size="9.7" font-weight="bold" fill="#000" text-anchor="end" >2.0</text>
<line x1="77.2" y1="494.60" x2="79.7" y2="494.60" stroke="#3a3a3a" stroke-width="1.1"/>
<text x="75.4" y="498.0" font-size="9.7" font-weight="bold" fill="#000" text-anchor="end" >4.0</text>
<line x1="77.2" y1="429.80" x2="79.7" y2="429.80" stroke="#3a3a3a" stroke-width="1.1"/>
<text x="75.4" y="433.20000000000005" font-size="9.7" font-weight="bold" fill="#000" text-anchor="end" >6.0</text>
<line x1="87.30" y1="624.2" x2="87.30" y2="626.7" stroke="#3a3a3a" stroke-width="1"/>
<line x1="84.80" y1="589.53" x2="84.80" y2="587.91" stroke="#111" stroke-width="1.25"/>
<line x1="83.30" y1="587.91" x2="86.30" y2="587.91" stroke="#111" stroke-width="1.25"/>
<line x1="89.80" y1="558.75" x2="89.80" y2="550.00" stroke="#111" stroke-width="1.25"/>
<line x1="88.30" y1="550.00" x2="91.30" y2="550.00" stroke="#111" stroke-width="1.25"/>
<rect x="82.80" y="591.15" width="4.2" height="33.05" fill="#e9b9b7" stroke="#000" stroke-width="1.75"/>
<rect x="87.80" y="558.75" width="4.2" height="65.45" fill="#8db2e3" stroke="#000" stroke-width="1.75"/>
<rect x="88.10" y="558.75" width="3.40" height="8.00" fill="#3a5070"/>
<rect x="83.10" y="591.15" width="3.40" height="2.2" fill="#3a2a2a"/>
<circle cx="83.50" cy="588.56" r="1.35" fill="#000"/>
<circle cx="84.80" cy="590.18" r="1.35" fill="#000"/>
<circle cx="86.10" cy="591.80" r="1.35" fill="#000"/>
<circle cx="88.80" cy="531.54" r="1.35" fill="#000"/>
<circle cx="89.80" cy="541.90" r="1.35" fill="#000"/>
<circle cx="90.80" cy="556.16" r="1.35" fill="#000"/>
<circle cx="88.80" cy="572.36" r="1.35" fill="#000"/>
<circle cx="89.80" cy="591.80" r="1.35" fill="#000"/>
<circle cx="90.80" cy="608.00" r="1.35" fill="#000"/>
<circle cx="88.80" cy="619.34" r="1.35" fill="#000"/>
<rect x="88.10" y="588.20" width="3.40" height="1.4" fill="#111"/>
<rect x="88.10" y="604.57" width="3.40" height="1.4" fill="#111"/>
<text transform="translate(90.30,638.7) rotate(-45)" font-size="11.7" font-weight="bold" text-anchor="end">CCNA1</text>
<line x1="102.99" y1="624.2" x2="102.99" y2="626.7" stroke="#3a3a3a" stroke-width="1"/>
<line x1="100.49" y1="591.15" x2="100.49" y2="588.56" stroke="#111" stroke-width="1.25"/>
<line x1="98.99" y1="588.56" x2="101.99" y2="588.56" stroke="#111" stroke-width="1.25"/>
<line x1="105.49" y1="594.39" x2="105.49" y2="582.40" stroke="#111" stroke-width="1.25"/>
<line x1="103.99" y1="582.40" x2="106.99" y2="582.40" stroke="#111" stroke-width="1.25"/>
<rect x="98.49" y="592.77" width="4.2" height="31.43" fill="#e9b9b7" stroke="#000" stroke-width="1.75"/>
<rect x="103.49" y="594.39" width="4.2" height="29.81" fill="#8db2e3" stroke="#000" stroke-width="1.75"/>
<rect x="103.79" y="594.39" width="3.40" height="8.94" fill="#3a5070"/>
<rect x="98.79" y="592.77" width="3.40" height="2.2" fill="#3a2a2a"/>
<circle cx="99.19" cy="580.46" r="1.35" fill="#000"/>
<circle cx="100.49" cy="588.56" r="1.35" fill="#000"/>
<circle cx="101.79" cy="591.80" r="1.35" fill="#000"/>
<circle cx="99.19" cy="596.66" r="1.35" fill="#000"/>
<circle cx="104.49" cy="553.89" r="1.35" fill="#000"/>
<circle cx="105.49" cy="585.32" r="1.35" fill="#000"/>
<circle cx="106.49" cy="595.04" r="1.35" fill="#000"/>
<circle cx="104.49" cy="601.52" r="1.35" fill="#000"/>
<circle cx="105.49" cy="611.24" r="1.35" fill="#000"/>
<circle cx="106.49" cy="617.72" r="1.35" fill="#000"/>
<rect x="103.79" y="607.81" width="3.40" height="1.4" fill="#111"/>
<rect x="103.79" y="615.26" width="3.40" height="1.4" fill="#111"/>
<text transform="translate(105.99,638.7) rotate(-45)" font-size="11.7" font-weight="bold" text-anchor="end">CCNA2</text>
<line x1="118.68" y1="624.2" x2="118.68" y2="626.7" stroke="#3a3a3a" stroke-width="1"/>
<line x1="116.18" y1="591.15" x2="116.18" y2="590.18" stroke="#111" stroke-width="1.25"/>
<line x1="114.68" y1="590.18" x2="117.68" y2="590.18" stroke="#111" stroke-width="1.25"/>
<line x1="121.18" y1="596.98" x2="121.18" y2="593.42" stroke="#111" stroke-width="1.25"/>
<line x1="119.68" y1="593.42" x2="122.68" y2="593.42" stroke="#111" stroke-width="1.25"/>
<rect x="114.18" y="592.77" width="4.2" height="31.43" fill="#e9b9b7" stroke="#000" stroke-width="1.75"/>
<rect x="119.18" y="596.98" width="4.2" height="27.22" fill="#8db2e3" stroke="#000" stroke-width="1.75"/>
<rect x="119.48" y="596.98" width="3.40" height="8.16" fill="#3a5070"/>
<rect x="114.48" y="592.77" width="3.40" height="2.2" fill="#3a2a2a"/>
<circle cx="114.88" cy="591.80" r="1.35" fill="#000"/>
<circle cx="120.18" cy="583.70" r="1.35" fill="#000"/>
<circle cx="121.18" cy="598.28" r="1.35" fill="#000"/>
<circle cx="122.18" cy="604.76" r="1.35" fill="#000"/>
<circle cx="120.18" cy="614.48" r="1.35" fill="#000"/>
<rect x="119.48" y="609.23" width="3.40" height="1.4" fill="#111"/>
<rect x="119.48" y="616.04" width="3.40" height="1.4" fill="#111"/>
<text transform="translate(121.68,638.7) rotate(-45)" font-size="11.7" font-weight="bold" text-anchor="end">CCNB1</text>
<line x1="134.37" y1="624.2" x2="134.37" y2="626.7" stroke="#3a3a3a" stroke-width="1"/>
<line x1="131.87" y1="591.15" x2="131.87" y2="588.56" stroke="#111" stroke-width="1.25"/>
<line x1="130.37" y1="588.56" x2="133.37" y2="588.56" stroke="#111" stroke-width="1.25"/>
<line x1="136.87" y1="579.16" x2="136.87" y2="569.12" stroke="#111" stroke-width="1.25"/>
<line x1="135.37" y1="569.12" x2="138.37" y2="569.12" stroke="#111" stroke-width="1.25"/>
<rect x="129.87" y="592.77" width="4.2" height="31.43" fill="#e9b9b7" stroke="#000" stroke-width="1.75"/>
<rect x="134.87" y="579.16" width="4.2" height="45.04" fill="#8db2e3" stroke="#000" stroke-width="1.75"/>
<rect x="135.17" y="579.16" width="3.40" height="13.51" fill="#3a5070"/>
<rect x="130.17" y="592.77" width="3.40" height="2.2" fill="#3a2a2a"/>
<circle cx="130.57" cy="582.08" r="1.35" fill="#000"/>
<circle cx="131.87" cy="591.80" r="1.35" fill="#000"/>
<circle cx="135.87" cy="552.92" r="1.35" fill="#000"/>
<circle cx="136.87" cy="559.40" r="1.35" fill="#000"/>
<circle cx="137.87" cy="567.50" r="1.35" fill="#000"/>
<circle cx="135.87" cy="578.84" r="1.35" fill="#000"/>
<circle cx="136.87" cy="591.80" r="1.35" fill="#000"/>
<circle cx="137.87" cy="604.76" r="1.35" fill="#000"/>
<circle cx="135.87" cy="614.48" r="1.35" fill="#000"/>
<rect x="135.17" y="599.43" width="3.40" height="1.4" fill="#111"/>
<rect x="135.17" y="610.69" width="3.40" height="1.4" fill="#111"/>
<text transform="translate(137.37,638.7) rotate(-45)" font-size="11.7" font-weight="bold" text-anchor="end">CCNB2</text>
<line x1="150.06" y1="624.2" x2="150.06" y2="626.7" stroke="#3a3a3a" stroke-width="1"/>
<line x1="147.56" y1="585.64" x2="147.56" y2="582.08" stroke="#111" stroke-width="1.25"/>
<line x1="146.06" y1="582.08" x2="149.06" y2="582.08" stroke="#111" stroke-width="1.25"/>
<line x1="152.56" y1="591.15" x2="152.56" y2="586.94" stroke="#111" stroke-width="1.25"/>
<line x1="151.06" y1="586.94" x2="154.06" y2="586.94" stroke="#111" stroke-width="1.25"/>
<rect x="145.56" y="587.26" width="4.2" height="36.94" fill="#e9b9b7" stroke="#000" stroke-width="1.75"/>
<rect x="150.56" y="591.15" width="4.2" height="33.05" fill="#8db2e3" stroke="#000" stroke-width="1.75"/>
<rect x="150.86" y="591.15" width="3.40" height="9.91" fill="#3a5070"/>
<rect x="145.86" y="587.26" width="3.40" height="2.2" fill="#3a2a2a"/>
<circle cx="146.26" cy="527.00" r="1.35" fill="#000"/>
<circle cx="147.56" cy="582.08" r="1.35" fill="#000"/>
<circle cx="148.86" cy="586.94" r="1.35" fill="#000"/>
<circle cx="146.26" cy="591.80" r="1.35" fill="#000"/>
<circle cx="147.56" cy="595.04" r="1.35" fill="#000"/>
<circle cx="151.56" cy="585.32" r="1.35" fill="#000"/>
<circle cx="152.56" cy="588.56" r="1.35" fill="#000"/>
<circle cx="153.56" cy="591.80" r="1.35" fill="#000"/>
<circle cx="151.56" cy="608.00" r="1.35" fill="#000"/>
<circle cx="152.56" cy="617.72" r="1.35" fill="#000"/>
<rect x="150.86" y="606.02" width="3.40" height="1.4" fill="#111"/>
<rect x="150.86" y="614.29" width="3.40" height="1.4" fill="#111"/>
<text transform="translate(153.06,638.7) rotate(-45)" font-size="11.7" font-weight="bold" text-anchor="end">CCNB3</text>
<line x1="165.75" y1="624.2" x2="165.75" y2="626.7" stroke="#3a3a3a" stroke-width="1"/>
<line x1="163.25" y1="591.80" x2="163.25" y2="590.18" stroke="#111" stroke-width="1.25"/>
<line x1="161.75" y1="590.18" x2="164.75" y2="590.18" stroke="#111" stroke-width="1.25"/>
<line x1="168.25" y1="578.19" x2="168.25" y2="574.95" stroke="#111" stroke-width="1.25"/>
<line x1="166.75" y1="574.95" x2="169.75" y2="574.95" stroke="#111" stroke-width="1.25"/>
<rect x="161.25" y="593.42" width="4.2" height="30.78" fill="#e9b9b7" stroke="#000" stroke-width="1.75"/>
<rect x="166.25" y="578.19" width="4.2" height="46.01" fill="#8db2e3" stroke="#000" stroke-width="1.75"/>
<rect x="166.55" y="578.19" width="3.40" height="13.80" fill="#3a5070"/>
<rect x="161.55" y="593.42" width="3.40" height="2.2" fill="#3a2a2a"/>
<circle cx="161.95" cy="585.32" r="1.35" fill="#000"/>
<circle cx="163.25" cy="588.56" r="1.35" fill="#000"/>
<circle cx="164.55" cy="591.80" r="1.35" fill="#000"/>
<circle cx="167.25" cy="565.88" r="1.35" fill="#000"/>
<circle cx="168.25" cy="575.60" r="1.35" fill="#000"/>
<circle cx="169.25" cy="582.08" r="1.35" fill="#000"/>
<circle cx="167.25" cy="595.04" r="1.35" fill="#000"/>
<circle cx="168.25" cy="611.24" r="1.35" fill="#000"/>
<rect x="166.55" y="598.90" width="3.40" height="1.4" fill="#111"/>
<rect x="166.55" y="610.40" width="3.40" height="1.4" fill="#111"/>
<text transform="translate(168.75,638.7) rotate(-45)" font-size="11.7" font-weight="bold" text-anchor="end">CCND1</text>
<line x1="181.44" y1="624.2" x2="181.44" y2="626.7" stroke="#3a3a3a" stroke-width="1"/>
<line x1="178.94" y1="592.12" x2="178.94" y2="588.56" stroke="#111" stroke-width="1.25"/>
<line x1="177.44" y1="588.56" x2="180.44" y2="588.56" stroke="#111" stroke-width="1.25"/>
<line x1="183.94" y1="596.98" x2="183.94" y2="591.80" stroke="#111" stroke-width="1.25"/>
<line x1="182.44" y1="591.80" x2="185.44" y2="591.80" stroke="#111" stroke-width="1.25"/>
<rect x="176.94" y="593.74" width="4.2" height="30.46" fill="#e9b9b7" stroke="#000" stroke-width="1.75"/>
<rect x="181.94" y="596.98" width="4.2" height="27.22" fill="#8db2e3" stroke="#000" stroke-width="1.75"/>
<rect x="182.24" y="596.98" width="3.40" height="8.16" fill="#3a5070"/>
<rect x="177.24" y="593.74" width="3.40" height="2.2" fill="#3a2a2a"/>
<circle cx="177.64" cy="585.32" r="1.35" fill="#000"/>
<circle cx="178.94" cy="591.80" r="1.35" fill="#000"/>
<circle cx="182.94" cy="588.56" r="1.35" fill="#000"/>
<circle cx="183.94" cy="595.04" r="1.35" fill="#000"/>
<circle cx="184.94" cy="604.76" r="1.35" fill="#000"/>
<circle cx="182.94" cy="617.72" r="1.35" fill="#000"/>
<rect x="182.24" y="609.23" width="3.40" height="1.4" fill="#111"/>
<rect x="182.24" y="616.04" width="3.40" height="1.4" fill="#111"/>
<text transform="translate(184.44,638.7) rotate(-45)" font-size="11.7" font-weight="bold" text-anchor="end">CCND2</text>
<line x1="197.13" y1="624.2" x2="197.13" y2="626.7" stroke="#3a3a3a" stroke-width="1"/>
<line x1="194.63" y1="591.15" x2="194.63" y2="590.18" stroke="#111" stroke-width="1.25"/>
<line x1="193.13" y1="590.18" x2="196.13" y2="590.18" stroke="#111" stroke-width="1.25"/>
<line x1="199.63" y1="600.22" x2="199.63" y2="595.04" stroke="#111" stroke-width="1.25"/>
<line x1="198.13" y1="595.04" x2="201.13" y2="595.04" stroke="#111" stroke-width="1.25"/>
<rect x="192.63" y="592.77" width="4.2" height="31.43" fill="#e9b9b7" stroke="#000" stroke-width="1.75"/>
<rect x="197.63" y="600.22" width="4.2" height="23.98" fill="#8db2e3" stroke="#000" stroke-width="1.75"/>
<rect x="197.93" y="600.22" width="3.40" height="7.19" fill="#3a5070"/>
<rect x="192.93" y="592.77" width="3.40" height="2.2" fill="#3a2a2a"/>
<circle cx="193.33" cy="588.56" r="1.35" fill="#000"/>
<circle cx="194.63" cy="591.80" r="1.35" fill="#000"/>
<circle cx="198.63" cy="595.04" r="1.35" fill="#000"/>
<circle cx="199.63" cy="601.52" r="1.35" fill="#000"/>
<circle cx="200.63" cy="608.00" r="1.35" fill="#000"/>
<rect x="197.93" y="611.01" width="3.40" height="1.4" fill="#111"/>
<rect x="197.93" y="617.01" width="3.40" height="1.4" fill="#111"/>
<text transform="translate(200.13,638.7) rotate(-45)" font-size="11.7" font-weight="bold" text-anchor="end">CCNE1</text>
<line x1="212.82" y1="624.2" x2="212.82" y2="626.7" stroke="#3a3a3a" stroke-width="1"/>
<line x1="210.32" y1="590.18" x2="210.32" y2="588.56" stroke="#111" stroke-width="1.25"/>
<line x1="208.82" y1="588.56" x2="211.82" y2="588.56" stroke="#111" stroke-width="1.25"/>
<line x1="215.32" y1="574.30" x2="215.32" y2="558.10" stroke="#111" stroke-width="1.25"/>
<line x1="213.82" y1="558.10" x2="216.82" y2="558.10" stroke="#111" stroke-width="1.25"/>
<rect x="208.32" y="591.80" width="4.2" height="32.40" fill="#e9b9b7" stroke="#000" stroke-width="1.75"/>
<rect x="213.32" y="574.30" width="4.2" height="49.90" fill="#8db2e3" stroke="#000" stroke-width="1.75"/>
<rect x="213.62" y="574.30" width="3.40" height="14.00" fill="#3a5070"/>
<rect x="208.62" y="591.80" width="3.40" height="2.2" fill="#3a2a2a"/>
<circle cx="209.02" cy="591.80" r="1.35" fill="#000"/>
<circle cx="214.32" cy="502.38" r="1.35" fill="#000"/>
<circle cx="215.32" cy="558.10" r="1.35" fill="#000"/>
<circle cx="216.32" cy="585.32" r="1.35" fill="#000"/>
<circle cx="214.32" cy="595.04" r="1.35" fill="#000"/>
<circle cx="215.32" cy="617.72" r="1.35" fill="#000"/>
<rect x="213.62" y="596.76" width="3.40" height="1.4" fill="#111"/>
<rect x="213.62" y="609.23" width="3.40" height="1.4" fill="#111"/>
<text transform="translate(215.82,638.7) rotate(-45)" font-size="11.7" font-weight="bold" text-anchor="end">CCNE2</text>
<line x1="228.51" y1="624.2" x2="228.51" y2="626.7" stroke="#3a3a3a" stroke-width="1"/>
<line x1="226.01" y1="590.18" x2="226.01" y2="588.56" stroke="#111" stroke-width="1.25"/>
<line x1="224.51" y1="588.56" x2="227.51" y2="588.56" stroke="#111" stroke-width="1.25"/>
<line x1="231.01" y1="563.61" x2="231.01" y2="549.36" stroke="#111" stroke-width="1.25"/>
<line x1="229.51" y1="549.36" x2="232.51" y2="549.36" stroke="#111" stroke-width="1.25"/>
<rect x="224.01" y="591.80" width="4.2" height="32.40" fill="#e9b9b7" stroke="#000" stroke-width="1.75"/>
<rect x="229.01" y="563.61" width="4.2" height="60.59" fill="#8db2e3" stroke="#000" stroke-width="1.75"/>
<rect x="229.31" y="563.61" width="3.40" height="14.00" fill="#3a5070"/>
<rect x="224.31" y="591.80" width="3.40" height="2.2" fill="#3a2a2a"/>
<circle cx="224.71" cy="588.56" r="1.35" fill="#000"/>
<circle cx="226.01" cy="591.80" r="1.35" fill="#000"/>
<circle cx="230.01" cy="529.27" r="1.35" fill="#000"/>
<circle cx="231.01" cy="531.54" r="1.35" fill="#000"/>
<circle cx="232.01" cy="538.02" r="1.35" fill="#000"/>
<circle cx="230.01" cy="575.60" r="1.35" fill="#000"/>
<circle cx="231.01" cy="595.04" r="1.35" fill="#000"/>
<circle cx="232.01" cy="614.48" r="1.35" fill="#000"/>
<rect x="229.31" y="590.88" width="3.40" height="1.4" fill="#111"/>
<rect x="229.31" y="606.02" width="3.40" height="1.4" fill="#111"/>
<text transform="translate(231.51,638.7) rotate(-45)" font-size="11.7" font-weight="bold" text-anchor="end">CDK1</text>
<line x1="244.20" y1="624.2" x2="244.20" y2="626.7" stroke="#3a3a3a" stroke-width="1"/>
<line x1="241.70" y1="590.18" x2="241.70" y2="588.56" stroke="#111" stroke-width="1.25"/>
<line x1="240.20" y1="588.56" x2="243.20" y2="588.56" stroke="#111" stroke-width="1.25"/>
<line x1="246.70" y1="578.19" x2="246.70" y2="570.09" stroke="#111" stroke-width="1.25"/>
<line x1="245.20" y1="570.09" x2="248.20" y2="570.09" stroke="#111" stroke-width="1.25"/>
<rect x="239.70" y="591.80" width="4.2" height="32.40" fill="#e9b9b7" stroke="#000" stroke-width="1.75"/>
<rect x="244.70" y="578.19" width="4.2" height="46.01" fill="#8db2e3" stroke="#000" stroke-width="1.75"/>
<rect x="245.00" y="578.19" width="3.40" height="13.80" fill="#3a5070"/>
<rect x="240.00" y="591.80" width="3.40" height="2.2" fill="#3a2a2a"/>
<circle cx="240.40" cy="585.32" r="1.35" fill="#000"/>
<circle cx="241.70" cy="591.80" r="1.35" fill="#000"/>
<circle cx="245.70" cy="549.36" r="1.35" fill="#000"/>
<circle cx="246.70" cy="562.32" r="1.35" fill="#000"/>
<circle cx="247.70" cy="578.84" r="1.35" fill="#000"/>
<circle cx="245.70" cy="595.04" r="1.35" fill="#000"/>
<circle cx="246.70" cy="614.48" r="1.35" fill="#000"/>
<rect x="245.00" y="598.90" width="3.40" height="1.4" fill="#111"/>
<rect x="245.00" y="610.40" width="3.40" height="1.4" fill="#111"/>
<text transform="translate(247.20,638.7) rotate(-45)" font-size="11.7" font-weight="bold" text-anchor="end">CDK2</text>
<line x1="259.89" y1="624.2" x2="259.89" y2="626.7" stroke="#3a3a3a" stroke-width="1"/>
<line x1="257.39" y1="590.18" x2="257.39" y2="588.56" stroke="#111" stroke-width="1.25"/>
<line x1="255.89" y1="588.56" x2="258.89" y2="588.56" stroke="#111" stroke-width="1.25"/>
<line x1="262.39" y1="551.95" x2="262.39" y2="533.48" stroke="#111" stroke-width="1.25"/>
<line x1="260.89" y1="533.48" x2="263.89" y2="533.48" stroke="#111" stroke-width="1.25"/>
<rect x="255.39" y="591.80" width="4.2" height="32.40" fill="#e9b9b7" stroke="#000" stroke-width="1.75"/>
<rect x="260.39" y="551.95" width="4.2" height="72.25" fill="#8db2e3" stroke="#000" stroke-width="1.75"/>
<rect x="260.69" y="551.95" width="3.40" height="14.00" fill="#3a5070"/>
<rect x="255.69" y="591.80" width="3.40" height="2.2" fill="#3a2a2a"/>
<circle cx="256.09" cy="578.84" r="1.35" fill="#000"/>
<circle cx="257.39" cy="582.08" r="1.35" fill="#000"/>
<circle cx="258.69" cy="585.32" r="1.35" fill="#000"/>
<circle cx="256.09" cy="591.80" r="1.35" fill="#000"/>
<circle cx="261.39" cy="465.12" r="1.35" fill="#000"/>
<circle cx="262.39" cy="489.42" r="1.35" fill="#000"/>
<circle cx="263.39" cy="546.44" r="1.35" fill="#000"/>
<circle cx="261.39" cy="562.64" r="1.35" fill="#000"/>
<circle cx="262.39" cy="588.56" r="1.35" fill="#000"/>
<circle cx="263.39" cy="608.00" r="1.35" fill="#000"/>
<rect x="260.69" y="584.46" width="3.40" height="1.4" fill="#111"/>
<rect x="260.69" y="602.52" width="3.40" height="1.4" fill="#111"/>
<text transform="translate(262.89,638.7) rotate(-45)" font-size="11.7" font-weight="bold" text-anchor="end">CDK4</text>
<line x1="275.58" y1="624.2" x2="275.58" y2="626.7" stroke="#3a3a3a" stroke-width="1"/>
<line x1="273.08" y1="590.18" x2="273.08" y2="588.56" stroke="#111" stroke-width="1.25"/>
<line x1="271.58" y1="588.56" x2="274.58" y2="588.56" stroke="#111" stroke-width="1.25"/>
<line x1="278.08" y1="562.64" x2="278.08" y2="549.36" stroke="#111" stroke-width="1.25"/>
<line x1="276.58" y1="549.36" x2="279.58" y2="549.36" stroke="#111" stroke-width="1.25"/>
<rect x="271.08" y="591.80" width="4.2" height="32.40" fill="#e9b9b7" stroke="#000" stroke-width="1.75"/>
<rect x="276.08" y="562.64" width="4.2" height="61.56" fill="#8db2e3" stroke="#000" stroke-width="1.75"/>
<rect x="276.38" y="562.64" width="3.40" height="14.00" fill="#3a5070"/>
<rect x="271.38" y="591.80" width="3.40" height="2.2" fill="#3a2a2a"/>
<circle cx="271.78" cy="585.32" r="1.35" fill="#000"/>
<circle cx="273.08" cy="591.80" r="1.35" fill="#000"/>
<circle cx="277.08" cy="531.54" r="1.35" fill="#000"/>
<circle cx="278.08" cy="536.72" r="1.35" fill="#000"/>
<circle cx="279.08" cy="575.60" r="1.35" fill="#000"/>
<circle cx="277.08" cy="595.04" r="1.35" fill="#000"/>
<circle cx="278.08" cy="614.48" r="1.35" fill="#000"/>
<rect x="276.38" y="590.34" width="3.40" height="1.4" fill="#111"/>
<rect x="276.38" y="605.73" width="3.40" height="1.4" fill="#111"/>
<text transform="translate(278.58,638.7) rotate(-45)" font-size="11.7" font-weight="bold" text-anchor="end">CDK6</text>
<line x1="291.27" y1="624.2" x2="291.27" y2="626.7" stroke="#3a3a3a" stroke-width="1"/>
<line x1="288.77" y1="591.15" x2="288.77" y2="590.18" stroke="#111" stroke-width="1.25"/>
<line x1="287.27" y1="590.18" x2="290.27" y2="590.18" stroke="#111" stroke-width="1.25"/>
<line x1="293.77" y1="566.20" x2="293.77" y2="552.92" stroke="#111" stroke-width="1.25"/>
<line x1="292.27" y1="552.92" x2="295.27" y2="552.92" stroke="#111" stroke-width="1.25"/>
<rect x="286.77" y="592.77" width="4.2" height="31.43" fill="#e9b9b7" stroke="#000" stroke-width="1.75"/>
<rect x="291.77" y="566.20" width="4.2" height="58.00" fill="#8db2e3" stroke="#000" stroke-width="1.75"/>
<rect x="292.07" y="566.20" width="3.40" height="14.00" fill="#3a5070"/>
<rect x="287.07" y="592.77" width="3.40" height="2.2" fill="#3a2a2a"/>
<circle cx="287.47" cy="588.56" r="1.35" fill="#000"/>
<circle cx="288.77" cy="591.80" r="1.35" fill="#000"/>
<circle cx="292.77" cy="499.14" r="1.35" fill="#000"/>
<circle cx="293.77" cy="522.79" r="1.35" fill="#000"/>
<circle cx="294.77" cy="572.36" r="1.35" fill="#000"/>
<circle cx="292.77" cy="588.56" r="1.35" fill="#000"/>
<circle cx="293.77" cy="608.00" r="1.35" fill="#000"/>
<rect x="292.07" y="592.30" width="3.40" height="1.4" fill="#111"/>
<rect x="292.07" y="606.80" width="3.40" height="1.4" fill="#111"/>
<text transform="translate(294.27,638.7) rotate(-45)" font-size="11.7" font-weight="bold" text-anchor="end">CDC25a</text>
<line x1="306.96" y1="624.2" x2="306.96" y2="626.7" stroke="#3a3a3a" stroke-width="1"/>
<line x1="304.46" y1="589.53" x2="304.46" y2="586.94" stroke="#111" stroke-width="1.25"/>
<line x1="302.96" y1="586.94" x2="305.96" y2="586.94" stroke="#111" stroke-width="1.25"/>
<line x1="309.46" y1="589.53" x2="309.46" y2="583.70" stroke="#111" stroke-width="1.25"/>
<line x1="307.96" y1="583.70" x2="310.96" y2="583.70" stroke="#111" stroke-width="1.25"/>
<rect x="302.46" y="591.15" width="4.2" height="33.05" fill="#e9b9b7" stroke="#000" stroke-width="1.75"/>
<rect x="307.46" y="589.53" width="4.2" height="34.67" fill="#8db2e3" stroke="#000" stroke-width="1.75"/>
<rect x="307.76" y="589.53" width="3.40" height="10.40" fill="#3a5070"/>
<rect x="302.76" y="591.15" width="3.40" height="2.2" fill="#3a2a2a"/>
<circle cx="303.16" cy="582.08" r="1.35" fill="#000"/>
<circle cx="304.46" cy="585.32" r="1.35" fill="#000"/>
<circle cx="305.76" cy="591.80" r="1.35" fill="#000"/>
<circle cx="308.46" cy="570.09" r="1.35" fill="#000"/>
<circle cx="309.46" cy="573.33" r="1.35" fill="#000"/>
<circle cx="310.46" cy="585.32" r="1.35" fill="#000"/>
<circle cx="308.46" cy="595.04" r="1.35" fill="#000"/>
<circle cx="309.46" cy="614.48" r="1.35" fill="#000"/>
<rect x="307.76" y="605.13" width="3.40" height="1.4" fill="#111"/>
<rect x="307.76" y="613.80" width="3.40" height="1.4" fill="#111"/>
<text transform="translate(309.96,638.7) rotate(-45)" font-size="11.7" font-weight="bold" text-anchor="end">P15</text>
<line x1="322.65" y1="624.2" x2="322.65" y2="626.7" stroke="#3a3a3a" stroke-width="1"/>
<line x1="320.15" y1="591.15" x2="320.15" y2="590.18" stroke="#111" stroke-width="1.25"/>
<line x1="318.65" y1="590.18" x2="321.65" y2="590.18" stroke="#111" stroke-width="1.25"/>
<line x1="325.15" y1="587.91" x2="325.15" y2="570.09" stroke="#111" stroke-width="1.25"/>
<line x1="323.65" y1="570.09" x2="326.65" y2="570.09" stroke="#111" stroke-width="1.25"/>
<rect x="318.15" y="592.77" width="4.2" height="31.43" fill="#e9b9b7" stroke="#000" stroke-width="1.75"/>
<rect x="323.15" y="587.91" width="4.2" height="36.29" fill="#8db2e3" stroke="#000" stroke-width="1.75"/>
<rect x="323.45" y="587.91" width="3.40" height="10.89" fill="#3a5070"/>
<rect x="318.45" y="592.77" width="3.40" height="2.2" fill="#3a2a2a"/>
<circle cx="318.85" cy="588.56" r="1.35" fill="#000"/>
<circle cx="320.15" cy="591.80" r="1.35" fill="#000"/>
<circle cx="324.15" cy="531.54" r="1.35" fill="#000"/>
<circle cx="325.15" cy="538.99" r="1.35" fill="#000"/>
<circle cx="326.15" cy="595.04" r="1.35" fill="#000"/>
<circle cx="324.15" cy="604.76" r="1.35" fill="#000"/>
<circle cx="325.15" cy="614.48" r="1.35" fill="#000"/>
<rect x="323.45" y="604.24" width="3.40" height="1.4" fill="#111"/>
<rect x="323.45" y="613.31" width="3.40" height="1.4" fill="#111"/>
<text transform="translate(325.65,638.7) rotate(-45)" font-size="11.7" font-weight="bold" text-anchor="end">P16</text>
<line x1="338.34" y1="624.2" x2="338.34" y2="626.7" stroke="#3a3a3a" stroke-width="1"/>
<line x1="335.84" y1="592.77" x2="335.84" y2="590.18" stroke="#111" stroke-width="1.25"/>
<line x1="334.34" y1="590.18" x2="337.34" y2="590.18" stroke="#111" stroke-width="1.25"/>
<line x1="340.84" y1="584.67" x2="340.84" y2="575.60" stroke="#111" stroke-width="1.25"/>
<line x1="339.34" y1="575.60" x2="342.34" y2="575.60" stroke="#111" stroke-width="1.25"/>
<rect x="333.84" y="594.39" width="4.2" height="29.81" fill="#e9b9b7" stroke="#000" stroke-width="1.75"/>
<rect x="338.84" y="584.67" width="4.2" height="39.53" fill="#8db2e3" stroke="#000" stroke-width="1.75"/>
<rect x="339.14" y="584.67" width="3.40" height="11.86" fill="#3a5070"/>
<rect x="334.14" y="594.39" width="3.40" height="2.2" fill="#3a2a2a"/>
<circle cx="334.54" cy="588.56" r="1.35" fill="#000"/>
<circle cx="335.84" cy="591.80" r="1.35" fill="#000"/>
<circle cx="339.84" cy="553.89" r="1.35" fill="#000"/>
<circle cx="340.84" cy="559.40" r="1.35" fill="#000"/>
<circle cx="341.84" cy="572.36" r="1.35" fill="#000"/>
<circle cx="339.84" cy="582.08" r="1.35" fill="#000"/>
<circle cx="340.84" cy="595.04" r="1.35" fill="#000"/>
<circle cx="341.84" cy="611.24" r="1.35" fill="#000"/>
<rect x="339.14" y="602.46" width="3.40" height="1.4" fill="#111"/>
<rect x="339.14" y="612.34" width="3.40" height="1.4" fill="#111"/>
<text transform="translate(341.34,638.7) rotate(-45)" font-size="11.7" font-weight="bold" text-anchor="end">P18</text>
<line x1="354.03" y1="624.2" x2="354.03" y2="626.7" stroke="#3a3a3a" stroke-width="1"/>
<line x1="351.53" y1="592.77" x2="351.53" y2="590.18" stroke="#111" stroke-width="1.25"/>
<line x1="350.03" y1="590.18" x2="353.03" y2="590.18" stroke="#111" stroke-width="1.25"/>
<line x1="356.53" y1="560.37" x2="356.53" y2="549.36" stroke="#111" stroke-width="1.25"/>
<line x1="355.03" y1="549.36" x2="358.03" y2="549.36" stroke="#111" stroke-width="1.25"/>
<rect x="349.53" y="594.39" width="4.2" height="29.81" fill="#e9b9b7" stroke="#000" stroke-width="1.75"/>
<rect x="354.53" y="560.37" width="4.2" height="63.83" fill="#8db2e3" stroke="#000" stroke-width="1.75"/>
<rect x="354.83" y="560.37" width="3.40" height="14.00" fill="#3a5070"/>
<rect x="349.83" y="594.39" width="3.40" height="2.2" fill="#3a2a2a"/>
<circle cx="350.23" cy="582.08" r="1.35" fill="#000"/>
<circle cx="351.53" cy="585.32" r="1.35" fill="#000"/>
<circle cx="352.83" cy="591.80" r="1.35" fill="#000"/>
<circle cx="355.53" cy="516.31" r="1.35" fill="#000"/>
<circle cx="356.53" cy="543.85" r="1.35" fill="#000"/>
<circle cx="357.53" cy="575.60" r="1.35" fill="#000"/>
<circle cx="355.53" cy="595.04" r="1.35" fill="#000"/>
<circle cx="356.53" cy="614.48" r="1.35" fill="#000"/>
<rect x="354.83" y="589.09" width="3.40" height="1.4" fill="#111"/>
<rect x="354.83" y="605.05" width="3.40" height="1.4" fill="#111"/>
<text transform="translate(357.03,638.7) rotate(-45)" font-size="11.7" font-weight="bold" text-anchor="end">P21</text>
<line x1="369.72" y1="624.2" x2="369.72" y2="626.7" stroke="#3a3a3a" stroke-width="1"/>
<line x1="367.22" y1="591.15" x2="367.22" y2="590.18" stroke="#111" stroke-width="1.25"/>
<line x1="365.72" y1="590.18" x2="368.72" y2="590.18" stroke="#111" stroke-width="1.25"/>
<line x1="372.22" y1="566.85" x2="372.22" y2="554.86" stroke="#111" stroke-width="1.25"/>
<line x1="370.72" y1="554.86" x2="373.72" y2="554.86" stroke="#111" stroke-width="1.25"/>
<rect x="365.22" y="592.77" width="4.2" height="31.43" fill="#e9b9b7" stroke="#000" stroke-width="1.75"/>
<rect x="370.22" y="566.85" width="4.2" height="57.35" fill="#8db2e3" stroke="#000" stroke-width="1.75"/>
<rect x="370.52" y="566.85" width="3.40" height="14.00" fill="#3a5070"/>
<rect x="365.52" y="592.77" width="3.40" height="2.2" fill="#3a2a2a"/>
<circle cx="365.92" cy="585.32" r="1.35" fill="#000"/>
<circle cx="367.22" cy="591.80" r="1.35" fill="#000"/>
<circle cx="371.22" cy="532.18" r="1.35" fill="#000"/>
<circle cx="372.22" cy="537.69" r="1.35" fill="#000"/>
<circle cx="373.22" cy="572.36" r="1.35" fill="#000"/>
<circle cx="371.22" cy="591.80" r="1.35" fill="#000"/>
<circle cx="372.22" cy="608.00" r="1.35" fill="#000"/>
<rect x="370.52" y="592.66" width="3.40" height="1.4" fill="#111"/>
<rect x="370.52" y="607.00" width="3.40" height="1.4" fill="#111"/>
<text transform="translate(372.72,638.7) rotate(-45)" font-size="11.7" font-weight="bold" text-anchor="end">P27</text>
<line x1="385.41" y1="624.2" x2="385.41" y2="626.7" stroke="#3a3a3a" stroke-width="1"/>
<line x1="382.91" y1="590.18" x2="382.91" y2="587.91" stroke="#111" stroke-width="1.25"/>
<line x1="381.41" y1="587.91" x2="384.41" y2="587.91" stroke="#111" stroke-width="1.25"/>
<line x1="387.91" y1="586.29" x2="387.91" y2="576.57" stroke="#111" stroke-width="1.25"/>
<line x1="386.41" y1="576.57" x2="389.41" y2="576.57" stroke="#111" stroke-width="1.25"/>
<rect x="380.91" y="591.80" width="4.2" height="32.40" fill="#e9b9b7" stroke="#000" stroke-width="1.75"/>
<rect x="385.91" y="586.29" width="4.2" height="37.91" fill="#8db2e3" stroke="#000" stroke-width="1.75"/>
<rect x="386.21" y="586.29" width="3.40" height="11.37" fill="#3a5070"/>
<rect x="381.21" y="591.80" width="3.40" height="2.2" fill="#3a2a2a"/>
<circle cx="381.61" cy="585.32" r="1.35" fill="#000"/>
<circle cx="382.91" cy="588.56" r="1.35" fill="#000"/>
<circle cx="384.21" cy="591.80" r="1.35" fill="#000"/>
<circle cx="386.91" cy="547.74" r="1.35" fill="#000"/>
<circle cx="387.91" cy="549.36" r="1.35" fill="#000"/>
<circle cx="388.91" cy="570.09" r="1.35" fill="#000"/>
<circle cx="386.91" cy="585.32" r="1.35" fill="#000"/>
<circle cx="387.91" cy="598.28" r="1.35" fill="#000"/>
<circle cx="388.91" cy="611.24" r="1.35" fill="#000"/>
<rect x="386.21" y="603.35" width="3.40" height="1.4" fill="#111"/>
<rect x="386.21" y="612.83" width="3.40" height="1.4" fill="#111"/>
<text transform="translate(388.41,638.7) rotate(-45)" font-size="11.7" font-weight="bold" text-anchor="end">P57</text>
<path d="M84.90,440.60L92.10,440.60M86.70,437.48L90.30,443.72M90.30,437.48L86.70,443.72" stroke="#111" stroke-width="1.3" stroke-linecap="round" fill="none"/>
<path d="M84.90,450.60L92.10,450.60M86.70,447.48L90.30,453.72M90.30,447.48L86.70,453.72" stroke="#111" stroke-width="1.3" stroke-linecap="round" fill="none"/>
<path d="M167.00,440.60L174.20,440.60M168.80,437.48L172.40,443.72M172.40,437.48L168.80,443.72" stroke="#111" stroke-width="1.3" stroke-linecap="round" fill="none"/>
<path d="M167.00,450.60L174.20,450.60M168.80,447.48L172.40,453.72M172.40,447.48L168.80,453.72" stroke="#111" stroke-width="1.3" stroke-linecap="round" fill="none"/>
<path d="M257.90,443.30L265.10,443.30M259.70,440.18L263.30,446.42M263.30,440.18L259.70,446.42" stroke="#111" stroke-width="1.3" stroke-linecap="round" fill="none"/>
<path d="M351.10,443.30L358.30,443.30M352.90,440.18L356.50,446.42M356.50,440.18L352.90,446.42" stroke="#111" stroke-width="1.3" stroke-linecap="round" fill="none"/>
<text transform="translate(35.2,525) rotate(-90)" font-size="12.9" font-weight="bold" text-anchor="middle">Normalized Expression</text>
<text transform="translate(49.4,525) rotate(-90)" font-size="12.9" font-weight="bold" text-anchor="middle">(Fold Change)</text>
</svg>
</body></html>
